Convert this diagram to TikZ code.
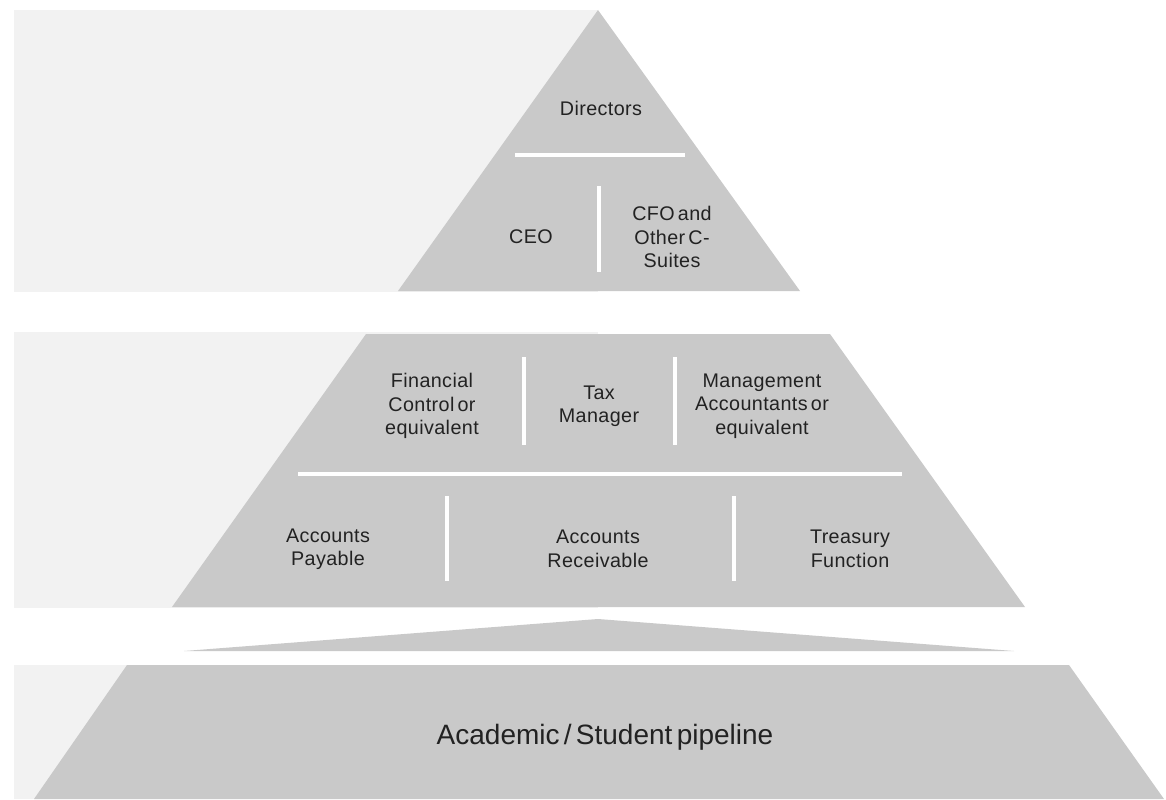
\documentclass[tikz,border=0pt]{standalone}
\usepackage{fontspec}
\setmainfont{Liberation Sans}[WordSpace=0.55]
\definecolor{pyr}{HTML}{C9C9C9}
\definecolor{band}{HTML}{F2F2F2}
\definecolor{txt}{HTML}{222222}
\begin{document}
\begin{tikzpicture}[x=0.75pt,y=-0.75pt,
  lbl/.style={align=center,text=txt,font=\fontsize{14.8}{17.6}\selectfont\addfontfeature{LetterSpace=2},inner sep=0pt},
  biglbl/.style={align=center,text=txt,font=\fontsize{21}{25}\selectfont,inner sep=0pt},
  sep/.style={white,line width=2.4pt},
  tier/.style={fill=pyr},
  bg/.style={fill=band}]
\useasboundingbox (0,0) rectangle (1166,799);
% background bands
\fill[bg] (14,10) rectangle (598,292);
\fill[bg] (14,332) rectangle (598,608);
\fill[bg] (14,665) rectangle (598,799);
% top triangle
\fill[tier] (598,10) -- (800,291) -- (398,291) -- cycle;
% middle trapezoid
\fill[tier] (366,334) -- (830,334) -- (1025,607) -- (172,607) -- cycle;
% sliver
\fill[tier] (184,651) -- (598,619) -- (1014,651) -- cycle;
% bottom trapezoid
\fill[tier] (127,665) -- (1069,665) -- (1164,799) -- (34,799) -- cycle;
% separators
\coordinate (h1a) at (515,155); \coordinate (h1b) at (685,155);
\draw[sep] (h1a) -- (h1b);
\coordinate (v1a) at (599,186); \coordinate (v1b) at (599,272);
\draw[sep] (v1a) -- (v1b);
\coordinate (h2a) at (298,474); \coordinate (h2b) at (902,474);
\draw[sep] (h2a) -- (h2b);
\coordinate (v2a) at (524,357); \coordinate (v2b) at (524,445);
\draw[sep] (v2a) -- (v2b);
\coordinate (v3a) at (675,357); \coordinate (v3b) at (675,445);
\draw[sep] (v3a) -- (v3b);
\coordinate (v4a) at (447,496); \coordinate (v4b) at (447,581);
\draw[sep] (v4a) -- (v4b);
\coordinate (v5a) at (734,496); \coordinate (v5b) at (734,581);
\draw[sep] (v5a) -- (v5b);
% labels
\node[lbl] (dir) at (601,108) {Directors};
\node[lbl] (ceo) at (531,237) {CEO};
\node[lbl] (cfo) at (672,237) {CFO and\\Other C-\\Suites};
\node[lbl] (fin) at (432,406) {Financial\\Control or\\equivalent};
\node[lbl] (tax) at (599,406) {Tax\\Manager};
\node[lbl] (mgmt) at (762,406) {Management\\Accountants or\\equivalent};
\node[lbl] (ap) at (328,549) {Accounts\\Payable};
\node[lbl] (ar) at (598,549) {Accounts\\Receivable};
\node[lbl] (tre) at (850,549) {Treasury\\Function};
\node[biglbl] (acad) at (605,737) {Academic / Student pipeline};
\end{tikzpicture}
\end{document}
